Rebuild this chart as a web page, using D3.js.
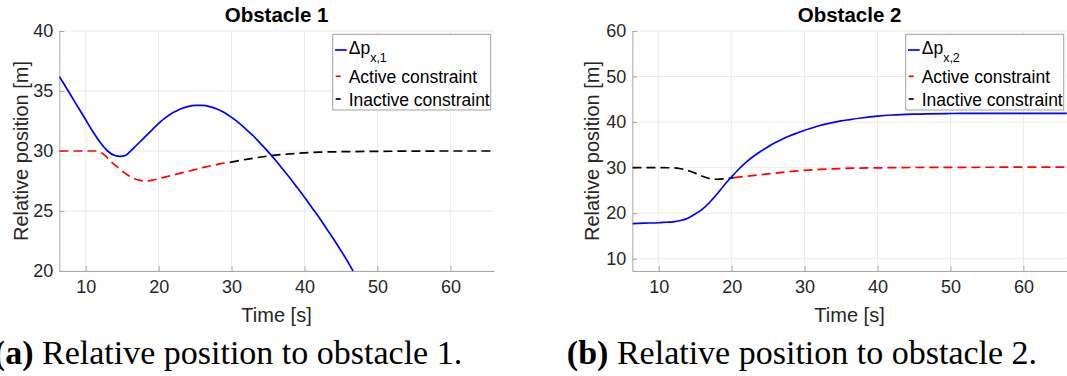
<!DOCTYPE html>
<html>
<head>
<meta charset="utf-8">
<script src="https://cdn.jsdelivr.net/npm/d3@7"></script>
<style>
  body { margin: 0; background: #fff; }
  svg { display: block; }
</style>
</head>
<body>
<div id="chart"></div>
<script>
var w = 1067, h = 376;

// ---- data ----
// obstacle 1
var t1Pos = [6.4, 7, 8, 9, 10, 11, 12, 13, 14, 14.7, 15.5, 16, 17, 18, 19, 20, 21, 22, 23, 24, 25, 26, 27, 28, 29, 30, 31, 32, 33, 34, 35, 36, 37, 38, 39, 40, 41, 42, 43, 44, 45, 46, 46.65];
var v1Pos = [36.2, 35.6, 34.6, 33.6, 32.6, 31.6, 30.7, 30.0, 29.62, 29.55, 29.65, 29.9, 30.5, 31.1, 31.7, 32.3, 32.8, 33.2, 33.5, 33.7, 33.8, 33.8, 33.7, 33.5, 33.2, 32.8, 32.35, 31.8, 31.25, 30.6, 29.95, 29.25, 28.5, 27.75, 26.95, 26.15, 25.3, 24.45, 23.55, 22.65, 21.7, 20.7, 20.0];
var t1Act = [6.4, 8, 10, 11.5, 12, 12.6, 13.5, 14.5, 15.5, 16.5, 17.5, 18.2, 19, 20, 21, 22, 23, 24, 25, 26, 27, 28, 29, 29.8];
var v1Act = [30, 30, 30, 30, 29.9, 29.65, 29.1, 28.6, 28.1, 27.75, 27.55, 27.5, 27.55, 27.7, 27.85, 28.0, 28.15, 28.3, 28.45, 28.6, 28.75, 28.87, 29.0, 29.05];
var t1Ina = [29.8, 31, 32, 33, 34, 35, 36, 38, 40, 42, 45, 50, 55, 60, 66];
var v1Ina = [29.05, 29.2, 29.3, 29.4, 29.5, 29.58, 29.65, 29.76, 29.84, 29.9, 29.94, 29.97, 29.99, 30, 30];

// obstacle 2
var t2Pos = [6.4, 8, 10, 11, 12, 13, 14, 15, 16, 17, 18, 19, 20, 21, 22, 23, 24, 25, 26, 27, 28, 29, 30, 31, 32, 33, 34, 35, 36, 38, 40, 42, 45, 50, 55, 60, 66];
var v2Pos = [17.7, 17.8, 17.9, 18.0, 18.1, 18.4, 18.9, 19.8, 20.9, 22.4, 24.2, 26.2, 28.0, 29.7, 31.2, 32.5, 33.6, 34.6, 35.5, 36.3, 37.0, 37.6, 38.2, 38.7, 39.2, 39.6, 39.95, 40.25, 40.5, 40.95, 41.3, 41.55, 41.75, 41.88, 41.92, 41.93, 41.93];
var t2Ina = [6.4, 8, 10, 12, 13, 14, 15, 16, 17, 18, 19, 20.3];
var v2Ina = [30, 30, 30, 29.95, 29.75, 29.35, 28.8, 28.1, 27.6, 27.45, 27.55, 27.8];
var t2Act = [20.3, 22, 24, 26, 28, 30, 32, 35, 40, 45, 50, 55, 60, 66];
var v2Act = [27.8, 28.1, 28.45, 28.8, 29.15, 29.4, 29.6, 29.8, 29.95, 30.03, 30.06, 30.08, 30.1, 30.1];

var xTicks = [10, 20, 30, 40, 50, 60];
var yTicks1 = [20, 25, 30, 35, 40];
var yTicks2 = [10, 20, 30, 40, 50, 60];
var legendNames = ["Active constraint", "Inactive constraint"];

function zip(ts, vs) { return ts.map(function (t, i) { return [t, vs[i]]; }); }

var svg = d3.select("#chart").append("svg")
    .attr("width", w).attr("height", h);

var sans = "'Liberation Sans', Arial, Helvetica, sans-serif";
var serif = "'Liberation Serif', 'Times New Roman', serif";

// one panel of the figure
function drawPanel(p) {
    var x = d3.scaleLinear().domain([6.38, 65.95]).range([p.left, p.left + 434.5]);
    var y = d3.scaleLinear().domain(p.yDomain).range([271, 31]);
    var g = svg.append("g");

    // grid
    g.selectAll(".gx").data(xTicks).enter().append("line")
        .attr("x1", d => x(d)).attr("x2", d => x(d))
        .attr("y1", 31).attr("y2", 271)
        .attr("stroke", "#ebebeb").attr("stroke-width", 1);
    g.selectAll(".gy").data(p.yTicks).enter().append("line")
        .attr("x1", x.range()[0]).attr("x2", x.range()[1])
        .attr("y1", d => y(d)).attr("y2", d => y(d))
        .attr("stroke", "#ebebeb").attr("stroke-width", 1);

    // axes, ticks pointing inward like matlab
    var ax = g.append("g").attr("transform", "translate(0,271)")
        .call(d3.axisBottom(x).tickValues(xTicks).tickSizeInner(-5).tickSizeOuter(0).tickPadding(9));
    var ay = g.append("g").attr("transform", "translate(" + p.left + ",0)")
        .call(d3.axisLeft(y).tickValues(p.yTicks).tickSizeInner(-5).tickSizeOuter(0).tickPadding(6));
    [ax, ay].forEach(function (a) {
        a.select(".domain").attr("stroke", "#a8a8a8");
        a.selectAll(".tick line").attr("stroke", "#a8a8a8");
        a.selectAll(".tick text").attr("fill", "#262626")
            .style("font-family", sans).style("font-size", "18px");
    });

    // curves
    var clipId = "clip" + p.id;
    svg.append("clipPath").attr("id", clipId).append("rect")
        .attr("x", x.range()[0]).attr("y", 30).attr("width", 434.5).attr("height", 242);
    var line = d3.line().x(d => x(d[0])).y(d => y(d[1])).curve(d3.curveMonotoneX);
    var cg = g.append("g").attr("clip-path", "url(#" + clipId + ")");
    p.series.forEach(function (s) {
        cg.append("path").datum(s.data)
            .attr("d", line)
            .attr("fill", "none")
            .attr("stroke", s.color)
            .attr("stroke-width", 1.7)
            .attr("stroke-dasharray", s.dash ? "9,5" : null);
    });

    // title and labels
    var cx = (x.range()[0] + x.range()[1]) / 2;
    g.append("text").attr("x", cx).attr("y", 22)
        .attr("text-anchor", "middle")
        .style("font-family", sans).style("font-size", "20.5px").style("font-weight", "bold")
        .text(p.title);
    g.append("text").attr("x", cx).attr("y", 322)
        .attr("text-anchor", "middle").attr("fill", "#262626")
        .style("font-family", sans).style("font-size", "20px")
        .text("Time [s]");
    g.append("text")
        .attr("transform", "translate(" + p.ylabX + ",151) rotate(-90)")
        .attr("text-anchor", "middle").attr("fill", "#262626")
        .style("font-family", sans).style("font-size", "20px")
        .text("Relative position [m]");

    // legend
    var bx = p.left + 273.4, by = 34.3;
    var lg = g.append("g");
    lg.append("rect").attr("x", bx).attr("y", by).attr("width", 158).attr("height", 75.7)
        .attr("fill", "#fff").attr("stroke", "#a0a0a0").attr("stroke-width", 1);
    lg.append("line").attr("x1", bx + 2.3).attr("x2", bx + 14).attr("y1", 50).attr("y2", 50)
        .attr("stroke", "#0000ff").attr("stroke-width", 1.7);
    var lt = lg.append("text").attr("x", bx + 16).attr("y", 54)
        .style("font-family", sans).style("font-size", "17.5px");
    lt.append("tspan").text("Δp");
    lt.append("tspan").attr("dy", 8).style("font-size", "12.5px").text(p.sub);
    var rows = [{ y: 83.3, c: "#ff0000" }, { y: 106, c: "#000000" }];
    rows.forEach(function (r, i) {
        lg.append("line").attr("x1", bx + 3).attr("x2", bx + 8).attr("y1", r.y - 7).attr("y2", r.y - 7)
            .attr("stroke", r.c).attr("stroke-width", 1.7);
        lg.append("text").attr("x", bx + 16).attr("y", r.y)
            .style("font-family", sans).style("font-size", "17.5px")
            .text(legendNames[i]);
    });

    // caption below
    var cap = svg.append("text").attr("x", p.capX).attr("y", 364)
        .attr("text-anchor", "middle")
        .style("font-family", serif).style("font-size", "34px");
    cap.append("tspan").style("font-weight", "bold").text(p.capTag);
    cap.append("tspan").text(" " + p.caption);
}

drawPanel({
    id: 1, left: 59.3, yDomain: [20, 40], yTicks: yTicks1, ylabX: 28,
    title: "Obstacle 1", sub: "x,1", capX: 228, capTag: "(a)",
    caption: "Relative position to obstacle 1.",
    series: [
        { data: zip(t1Act, v1Act), color: "#ff0000", dash: true },
        { data: zip(t1Ina, v1Ina), color: "#000000", dash: true },
        { data: zip(t1Pos, v1Pos), color: "#0000ff", dash: false }
    ]
});

drawPanel({
    id: 2, left: 632.3, yDomain: [7.3, 60], yTicks: yTicks2, ylabX: 599,
    title: "Obstacle 2", sub: "x,2", capX: 802, capTag: "(b)",
    caption: "Relative position to obstacle 2.",
    series: [
        { data: zip(t2Ina, v2Ina), color: "#000000", dash: true },
        { data: zip(t2Act, v2Act), color: "#ff0000", dash: true },
        { data: zip(t2Pos, v2Pos), color: "#0000ff", dash: false }
    ]
});
</script>
</body>
</html>
